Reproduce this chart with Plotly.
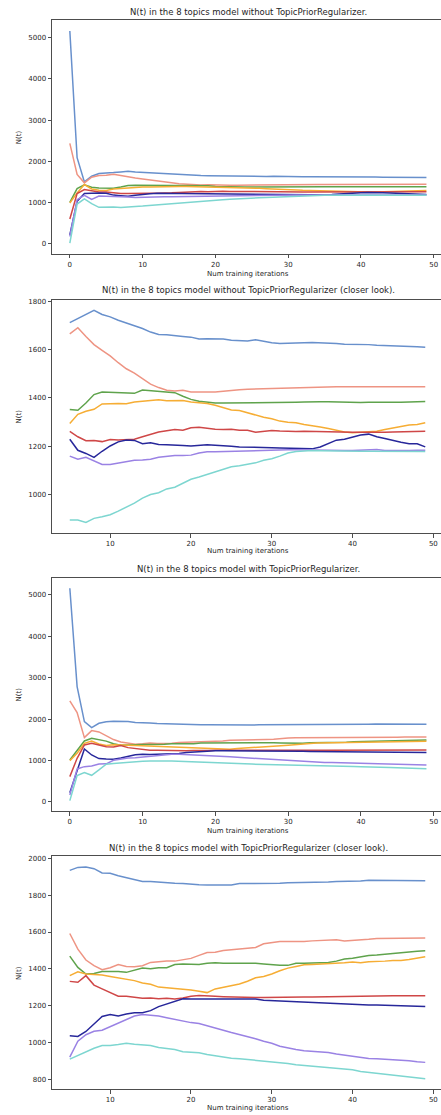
import plotly.graph_objects as go

W, H = 441, 1115

iterations = list(range(50))
topic_names = ["topic 0", "topic 1", "topic 2", "topic 3", "topic 4", "topic 5", "topic 6", "topic 7"]

# ---- model without TopicPriorRegularizer ----
blue1 = [5160, 2089, 1504, 1642, 1707,
         1712, 1729, 1746, 1763, 1746, 1736, 1722, 1711, 1700, 1688,
         1673, 1663, 1662, 1657, 1655, 1652, 1644, 1645, 1645, 1644,
         1639, 1636, 1636, 1641, 1634, 1629, 1626, 1626, 1628, 1629,
         1630, 1629, 1629, 1626, 1623, 1623, 1623, 1621, 1618, 1617,
         1617, 1617, 1615, 1612, 1610]
salmon1 = [2439, 1683, 1480, 1618, 1660,
           1666, 1691, 1655, 1621, 1597, 1574, 1546, 1521, 1503, 1480,
           1457, 1443, 1432, 1429, 1432, 1425, 1425, 1422, 1425, 1428,
           1432, 1434, 1436, 1437, 1438, 1440, 1442, 1442, 1443, 1443,
           1443, 1444, 1445, 1446, 1446, 1446, 1447, 1447, 1447, 1446,
           1446, 1446, 1446, 1446, 1446]
green1 = [1008, 1341, 1431, 1374, 1358,
          1352, 1349, 1379, 1414, 1425, 1423, 1422, 1419, 1419, 1433,
          1430, 1429, 1426, 1422, 1407, 1394, 1386, 1382, 1379, 1379,
          1379, 1381, 1382, 1381, 1382, 1381, 1380, 1381, 1382, 1383,
          1385, 1384, 1384, 1383, 1382, 1381, 1381, 1382, 1381, 1381,
          1382, 1382, 1382, 1383, 1385]
orange1 = [992, 1236, 1439, 1333, 1301,
           1294, 1332, 1345, 1353, 1375, 1377, 1377, 1376, 1383, 1386,
           1389, 1392, 1388, 1388, 1389, 1383, 1381, 1377, 1370, 1359,
           1350, 1348, 1338, 1328, 1320, 1314, 1304, 1299, 1297, 1290,
           1286, 1280, 1273, 1265, 1259, 1256, 1258, 1258, 1262, 1269,
           1277, 1282, 1288, 1290, 1297]
red1 = [602, 1220, 1317, 1293, 1260,
        1261, 1239, 1223, 1224, 1219, 1228, 1226, 1229, 1229, 1239,
        1248, 1259, 1264, 1269, 1266, 1276, 1279, 1273, 1270, 1269,
        1270, 1266, 1266, 1258, 1261, 1265, 1263, 1261, 1261, 1262,
        1261, 1259, 1258, 1258, 1258, 1258, 1258, 1257, 1258, 1258,
        1259, 1259, 1260, 1261, 1262]
navy1 = [220, 1033, 1220, 1236, 1236,
         1229, 1183, 1170, 1154, 1179, 1201, 1218, 1226, 1224, 1210,
         1214, 1207, 1206, 1203, 1203, 1201, 1203, 1206, 1204, 1203,
         1200, 1197, 1197, 1197, 1194, 1194, 1193, 1192, 1190, 1190,
         1189, 1197, 1211, 1225, 1229, 1239, 1246, 1250, 1239, 1232,
         1223, 1216, 1210, 1210, 1197]
purple1 = [179, 1073, 1179, 1080, 1160,
           1159, 1146, 1154, 1139, 1124, 1124, 1131, 1137, 1142, 1143,
           1146, 1154, 1159, 1161, 1161, 1163, 1172, 1177, 1177, 1178,
           1179, 1181, 1182, 1183, 1184, 1185, 1185, 1185, 1185, 1184,
           1183, 1183, 1183, 1183, 1182, 1182, 1183, 1184, 1186, 1182,
           1181, 1181, 1182, 1183, 1183]
cyan1 = [16, 967, 1089, 976, 886,
         894, 894, 884, 901, 908, 916, 931, 946, 964, 985,
         1000, 1007, 1023, 1030, 1046, 1063, 1072, 1083, 1095, 1106,
         1115, 1119, 1124, 1131, 1142, 1148, 1159, 1172, 1178, 1181,
         1182, 1181, 1180, 1180, 1180, 1180, 1179, 1179, 1179, 1179,
         1179, 1178, 1178, 1178, 1178]

# ---- model with TopicPriorRegularizer ----
blue2 = [5161, 2786, 1940, 1795, 1900,
         1935, 1951, 1953, 1944, 1921, 1919, 1906, 1895, 1888, 1875,
         1874, 1870, 1866, 1865, 1863, 1859, 1857, 1856, 1856, 1857,
         1856, 1863, 1863, 1861, 1863, 1865, 1865, 1868, 1868, 1868,
         1870, 1872, 1872, 1874, 1874, 1874, 1877, 1881, 1881, 1881,
         1881, 1883, 1881, 1879, 1879]
salmon2 = [2440, 2158, 1554, 1723, 1691,
           1592, 1507, 1448, 1417, 1395, 1406, 1424, 1413, 1412, 1417,
           1435, 1440, 1442, 1442, 1448, 1457, 1473, 1489, 1490, 1500,
           1504, 1509, 1511, 1516, 1536, 1543, 1549, 1549, 1547, 1549,
           1552, 1554, 1558, 1558, 1552, 1554, 1558, 1561, 1565, 1565,
           1565, 1567, 1567, 1567, 1567]
green2 = [1014, 1240, 1473, 1538, 1498,
          1469, 1408, 1372, 1375, 1386, 1386, 1386, 1381, 1392, 1404,
          1400, 1406, 1406, 1424, 1426, 1424, 1424, 1430, 1433, 1431,
          1431, 1433, 1430, 1430, 1426, 1422, 1419, 1419, 1430, 1430,
          1431, 1433, 1435, 1442, 1453, 1458, 1467, 1473, 1475, 1478,
          1484, 1486, 1491, 1495, 1498]
orange2 = [998, 1176, 1417, 1473, 1401,
           1363, 1384, 1372, 1370, 1366, 1359, 1352, 1347, 1336, 1323,
           1316, 1301, 1298, 1294, 1291, 1285, 1278, 1271, 1291, 1300,
           1312, 1318, 1333, 1352, 1359, 1372, 1390, 1404, 1413, 1422,
           1424, 1426, 1426, 1430, 1433, 1437, 1433, 1439, 1439, 1442,
           1446, 1446, 1451, 1458, 1466]
red2 = [612, 1055, 1377, 1417, 1377,
        1332, 1327, 1363, 1312, 1291, 1269, 1251, 1251, 1244, 1240,
        1242, 1238, 1240, 1236, 1242, 1251, 1255, 1255, 1251, 1249,
        1247, 1246, 1244, 1244, 1245, 1246, 1246, 1246, 1246, 1247,
        1247, 1248, 1249, 1250, 1251, 1252, 1252, 1253, 1254, 1254,
        1254, 1254, 1254, 1254, 1254]
navy2 = [225, 733, 1280, 1135, 1047,
         1036, 1033, 1060, 1098, 1141, 1152, 1144, 1155, 1161, 1162,
         1173, 1195, 1209, 1224, 1238, 1236, 1236, 1236, 1236, 1236,
         1238, 1240, 1240, 1236, 1229, 1227, 1224, 1222, 1220, 1218,
         1217, 1215, 1211, 1209, 1209, 1208, 1206, 1204, 1204, 1202,
         1199, 1200, 1199, 1197, 1195]
purple2 = [169, 797, 853, 870, 918,
           921, 1007, 1042, 1061, 1067, 1087, 1105, 1125, 1144, 1152,
           1150, 1144, 1135, 1126, 1116, 1108, 1103, 1092, 1079, 1067,
           1054, 1043, 1034, 1020, 1007, 996, 980, 969, 962, 955,
           951, 951, 946, 937, 931, 924, 919, 913, 912, 910,
           906, 904, 901, 895, 892]
cyan2 = [32, 636, 709, 644, 773,
         910, 930, 946, 969, 984, 984, 989, 996, 991, 989,
         984, 973, 969, 962, 950, 946, 944, 935, 928, 922,
         915, 912, 908, 903, 897, 894, 892, 886, 879, 875,
         872, 868, 866, 861, 857, 852, 843, 838, 834, 830,
         825, 820, 814, 809, 803]

model1 = [blue1, salmon1, green1, orange1, red1, navy1, purple1, cyan1]
model2 = [blue2, salmon2, green2, orange2, red2, navy2, purple2, cyan2]

colors = ["#6890cc", "#ee9483", "#5fa34c", "#f6ad34", "#cf4747", "#27279a", "#9a82e4", "#7dd6d0"]

titles = [
    "N(t) in the 8 topics model without TopicPriorRegularizer.",
    "N(t) in the 8 topics model without TopicPriorRegularizer (closer look).",
    "N(t) in the 8 topics model with TopicPriorRegularizer.",
    "N(t) in the 8 topics model with TopicPriorRegularizer (closer look).",
]
xlabel = "Num training iterations"
ylabel = "N(t)"
start_closer = 5

# panel layout in pixels (top, bottom) and x-range
panels = [
    dict(data=model1, start=0, top=18.5, bottom=252.3, xr=[-2.45, 51.0], title_y=10, xl_y=272),
    dict(data=model1, start=start_closer, top=298.3, bottom=532.0, xr=[2.8, 50.95], title_y=289, xl_y=550),
    dict(data=model2, start=0, top=576.7, bottom=810.7, xr=[-2.45, 51.0], title_y=568, xl_y=830),
    dict(data=model2, start=start_closer, top=856.0, bottom=1089.3, xr=[2.8, 50.95], title_y=848, xl_y=1108),
]

LEFT = 52
TXT = "#262626"
AX = "#4d4d4d"
FONT = "DejaVu Sans"

fig = go.Figure()
annotations = []
layout_axes = {}

for k, p in enumerate(panels):
    n = k + 1
    xa = "x" if n == 1 else f"x{n}"
    ya = "y" if n == 1 else f"y{n}"
    s = p["start"]
    xs = iterations[s:]
    allv = []
    for series, col, name in zip(p["data"], colors, topic_names):
        ys = series[s:]
        allv += ys
        fig.add_trace(go.Scatter(x=xs, y=ys, mode="lines", name=name,
                                 line=dict(color=col, width=1.5),
                                 xaxis=xa, yaxis=ya, showlegend=False))
    lo, hi = min(allv), max(allv)
    span = hi - lo
    yr = [lo - 0.05 * span, hi + 0.05 * span]
    dom_y = [1 - p["bottom"] / H, 1 - p["top"] / H]
    xkey = "xaxis" if n == 1 else f"xaxis{n}"
    ykey = "yaxis" if n == 1 else f"yaxis{n}"
    layout_axes[xkey] = dict(
        domain=[LEFT / W, 1], range=p["xr"], anchor=ya, dtick=10, tick0=0,
        showgrid=False, zeroline=False, showline=True, linecolor=AX, linewidth=1,
        mirror=True, ticks="outside", ticklen=3.5, tickcolor=AX, tickwidth=1,
        tickfont=dict(family=FONT, size=7, color=TXT),
    )
    layout_axes[ykey] = dict(
        domain=dom_y, range=yr, anchor=xa,
        dtick=1000 if s == 0 else 200,
        showgrid=False, zeroline=False, showline=True, linecolor=AX, linewidth=1,
        ticks="outside", ticklen=3.5, tickcolor=AX, tickwidth=1,
        tickfont=dict(family=FONT, size=7, color=TXT),
    )
    cx = (LEFT + 444) / 2 / W
    annotations.append(dict(text=titles[k], x=cx, y=1 - p["title_y"] / H, xref="paper", yref="paper",
                            xanchor="center", yanchor="middle", showarrow=False,
                            font=dict(family=FONT, size=8.5, color=TXT)))
    annotations.append(dict(text=xlabel, x=cx, y=1 - p["xl_y"] / H, xref="paper", yref="paper",
                            xanchor="center", yanchor="middle", showarrow=False,
                            font=dict(family=FONT, size=7, color=TXT)))
    annotations.append(dict(text=ylabel, x=19 / W, y=1 - (p["top"] + p["bottom"]) / 2 / H,
                            xref="paper", yref="paper", textangle=-90,
                            xanchor="center", yanchor="middle", showarrow=False,
                            font=dict(family=FONT, size=7, color=TXT)))

fig.update_layout(
    width=W, height=H, margin=dict(l=0, r=0, t=0, b=0),
    paper_bgcolor="white", plot_bgcolor="white",
    annotations=annotations, **layout_axes,
)

fig.write_html("out.html")
